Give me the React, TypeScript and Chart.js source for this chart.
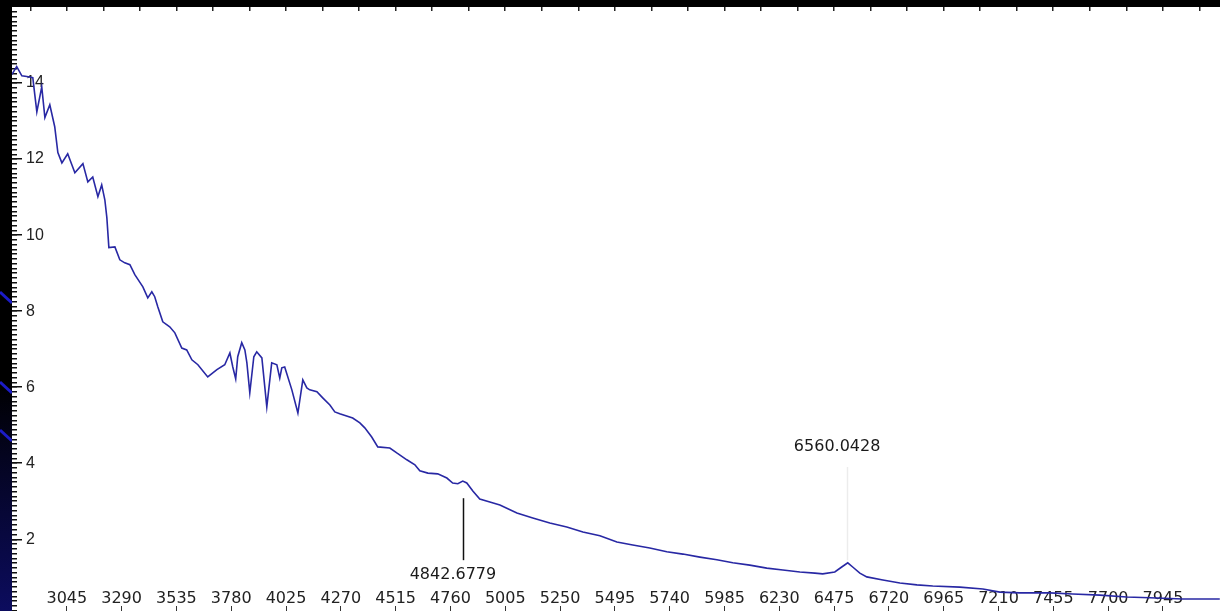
import { useEffect, useRef } from "react";
import { Chart, registerables } from "chart.js";

Chart.register(...registerables);

// Spectrum: wavelength (Å) and relative flux
const wavelengths = [
  2799, 2821, 2844, 2866, 2893, 2902, 2911, 2933, 2947, 2969, 2991, 3005, 3023, 3049, 3081, 3117,
  3139, 3161, 3184, 3201, 3215, 3224, 3233, 3260, 3282, 3304, 3327, 3349, 3385, 3407, 3425, 3438,
  3452, 3474, 3505, 3528, 3559, 3581, 3604, 3631, 3675, 3716, 3751, 3774, 3787, 3800, 3809, 3827,
  3841, 3850, 3863, 3881, 3894, 3917, 3939, 3961, 3984, 3997, 4006, 4019, 4051, 4078, 4100, 4118,
  4131, 4163, 4189, 4221, 4243, 4265, 4323, 4355, 4377, 4408, 4435, 4489, 4520, 4565, 4601, 4623,
  4659, 4703, 4744, 4770, 4793, 4815, 4833, 4860, 4891, 4936, 4981, 5057, 5128, 5204, 5280, 5352,
  5428, 5504, 5575, 5651, 5727, 5799, 5875, 5951, 6022, 6098, 6174, 6246, 6322, 6389, 6424, 6478,
  6509, 6536, 6558, 6590, 6621, 6693, 6769, 6845, 6916, 7037, 7140, 7216, 7305, 7439, 7542, 7663,
  7783, 7886, 8034, 8199,
];

const flux = [
  14.22, 14.43, 14.19, 14.17, 14.14, 13.69, 13.24, 13.9, 13.09, 13.43, 12.85, 12.17, 11.9, 12.14, 11.64, 11.88,
  11.4, 11.53, 11.01, 11.32, 10.93, 10.46, 9.67, 9.69, 9.35, 9.27, 9.22, 8.96, 8.64, 8.35, 8.51, 8.38,
  8.11, 7.72, 7.59, 7.43, 7.03, 6.98, 6.72, 6.59, 6.27, 6.46, 6.59, 6.9, 6.53, 6.22, 6.8, 7.17,
  6.98, 6.64, 5.85, 6.8, 6.93, 6.77, 5.48, 6.64, 6.59, 6.24, 6.51, 6.53, 5.93, 5.32, 6.19, 5.98,
  5.93, 5.88, 5.72, 5.53, 5.35, 5.3, 5.19, 5.06, 4.93, 4.69, 4.43, 4.4, 4.27, 4.09, 3.96, 3.8,
  3.74, 3.72, 3.61, 3.48, 3.46, 3.53, 3.48, 3.27, 3.06, 2.98, 2.9, 2.69, 2.56, 2.43, 2.32, 2.19,
  2.09, 1.93, 1.85, 1.77, 1.67, 1.61, 1.53, 1.46, 1.38, 1.32, 1.24, 1.19, 1.14, 1.11, 1.09, 1.14,
  1.27, 1.38, 1.27, 1.11, 1.01, 0.93, 0.85, 0.8, 0.77, 0.74, 0.69, 0.61, 0.59, 0.59, 0.56, 0.53,
  0.48, 0.46, 0.43, 0.43,
];

const xTickValues = [
  3045, 3290, 3535, 3780, 4025, 4270, 4515, 4760, 5005, 5250, 5495, 5740, 5985, 6230, 6475, 6720,
  6965, 7210, 7455, 7700, 7945,
];
const yTickValues = [2, 4, 6, 8, 10, 12, 14];

// Line identifications
const markerWaves = [4842.6779, 6560.0428];
const markerLabels = ["4842.6779", "6560.0428"];
const markerTextFlux = [1.06, 4.43];
const markerLineTop = [3.08, 3.9];
const markerLineBottom = [1.45, 1.45];
const markerLineColors = ["#111111", "#ececec"];

const X_MIN = 2800;
const X_MAX = 8200;
const Y_MIN = 0.113;
const Y_MAX = 16;

const minorTicks: number[] = [];
for (let v = 0.125; v < Y_MAX; v += 0.125) minorTicks.push(Number(v.toFixed(3)));
const topTicks: number[] = [];
for (let v = 2882; v < X_MAX; v += 163.3) topTicks.push(v);

// Axes sit on the edge of the plot with no space of their own
const flatX = (s: any) => {
  s.height = 0;
  s.paddingLeft = 0;
  s.paddingRight = 0;
  s.paddingTop = 0;
  s.paddingBottom = 0;
};
const flatY = (s: any) => {
  s.width = 0;
  s.paddingLeft = 0;
  s.paddingRight = 0;
  s.paddingTop = 0;
  s.paddingBottom = 0;
};

const framePlugin = {
  id: "frame",
  beforeDraw(chart: any) {
    const { ctx, chartArea: a, width, height } = chart;
    ctx.save();
    ctx.fillStyle = "#000";
    ctx.fillRect(0, 0, width, height);
    const g = ctx.createLinearGradient(0, 0, 0, height);
    g.addColorStop(0, "#000000");
    g.addColorStop(0.62, "#000000");
    g.addColorStop(1, "#0c0c5e");
    ctx.fillStyle = g;
    ctx.fillRect(0, a.top, a.left, height - a.top);
    ctx.strokeStyle = "#1c1cc8";
    ctx.lineWidth = 3;
    for (const y0 of [292, 382, 430]) {
      ctx.beginPath();
      ctx.moveTo(0, y0);
      ctx.lineTo(a.left, y0 + 11);
      ctx.stroke();
    }
    ctx.fillStyle = "#ffffff";
    ctx.fillRect(a.left, a.top, a.right - a.left, a.bottom - a.top);
    ctx.restore();
  },
};

const markerPlugin = {
  id: "markers",
  afterDatasetsDraw(chart: any) {
    const { ctx } = chart;
    const xs = chart.scales.x;
    const ys = chart.scales.y;
    ctx.save();
    markerWaves.forEach((w, i) => {
      const px = Math.round(xs.getPixelForValue(w)) - 5.5;
      ctx.strokeStyle = markerLineColors[i];
      ctx.lineWidth = 1.5;
      ctx.beginPath();
      ctx.moveTo(px, ys.getPixelForValue(markerLineTop[i]));
      ctx.lineTo(px, ys.getPixelForValue(markerLineBottom[i]));
      ctx.stroke();
      ctx.fillStyle = "#1a1a1a";
      ctx.font = '16px "DejaVu Sans"';
      ctx.textAlign = "center";
      ctx.textBaseline = "middle";
      ctx.fillText(markerLabels[i], xs.getPixelForValue(w) - 16, ys.getPixelForValue(markerTextFlux[i]));
    });
    ctx.restore();
  },
};

export default function App() {
  const canvasRef = useRef<HTMLCanvasElement | null>(null);

  useEffect(() => {
    document.body.style.margin = "0";
    const canvas = canvasRef.current;
    if (!canvas) return;
    const points = wavelengths.map((w, i) => ({ x: w, y: flux[i] }));
    const chart = new Chart(canvas, {
      type: "line",
      data: {
        datasets: [
          {
            data: points,
            borderColor: "#2828a4",
            borderWidth: 1.6,
            pointRadius: 0,
            tension: 0,
            fill: false,
          },
        ],
      },
      options: {
        animation: false,
        responsive: false,
        devicePixelRatio: 1,
        events: [],
        layout: { padding: { left: 12, top: 7, right: 0, bottom: 0 } },
        plugins: { legend: { display: false }, tooltip: { enabled: false } },
        scales: {
          x: {
            type: "linear",
            position: "bottom",
            min: X_MIN,
            max: X_MAX,
            afterFit: flatX,
            afterBuildTicks: (s: any) => {
              s.ticks = xTickValues.map((v) => ({ value: v }));
            },
            border: { display: false },
            grid: { drawOnChartArea: false, drawTicks: true, tickLength: -5, color: "#333", lineWidth: 1 },
            ticks: {
              mirror: true,
              padding: 3,
              autoSkip: false,
              maxRotation: 0,
              color: "#222",
              font: { family: "DejaVu Sans", size: 16 },
              callback: (v: any) => String(v),
            },
          },
          xTop: {
            type: "linear",
            position: "top",
            min: X_MIN,
            max: X_MAX,
            afterFit: flatX,
            afterBuildTicks: (s: any) => {
              s.ticks = topTicks.map((v) => ({ value: v }));
            },
            border: { display: false },
            grid: { drawOnChartArea: false, drawTicks: true, tickLength: -4, color: "#222", lineWidth: 1.5 },
            ticks: { display: false },
          },
          y: {
            type: "linear",
            position: "left",
            min: Y_MIN,
            max: Y_MAX,
            afterFit: flatY,
            afterBuildTicks: (s: any) => {
              s.ticks = yTickValues.map((v) => ({ value: v }));
            },
            border: { display: false },
            grid: { drawOnChartArea: false, drawTicks: true, tickLength: -10, color: "#111", lineWidth: 1.5 },
            ticks: {
              mirror: true,
              padding: 14,
              color: "#222",
              font: { family: "Liberation Sans", size: 16 },
              callback: (v: any) => String(v),
            },
          },
          yMinor: {
            type: "linear",
            position: "left",
            min: Y_MIN,
            max: Y_MAX,
            afterFit: flatY,
            afterBuildTicks: (s: any) => {
              s.ticks = minorTicks.map((v) => ({ value: v }));
            },
            border: { display: false },
            grid: { drawOnChartArea: false, drawTicks: true, tickLength: -5, color: "#111", lineWidth: 1.5 },
            ticks: { display: false },
          },
        },
      },
      plugins: [framePlugin, markerPlugin],
    } as any);
    return () => chart.destroy();
  }, []);

  return (
    <div style={{ position: "fixed", left: 0, top: 0, width: 1220, height: 611, overflow: "hidden", background: "#000" }}>
      <canvas ref={canvasRef} width={1220} height={611} style={{ display: "block", width: 1220, height: 611 }} />
    </div>
  );
}
